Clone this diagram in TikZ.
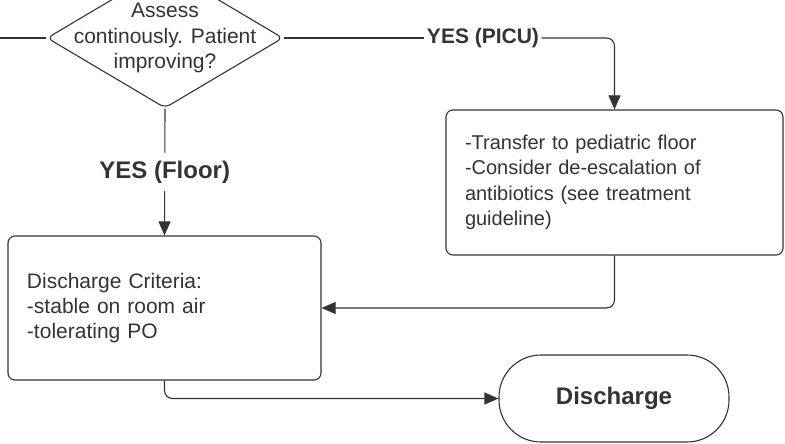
\documentclass[tikz,border=0pt]{standalone}
\usepackage{fontspec}
\setmainfont{Liberation Sans}
\usetikzlibrary{shapes.geometric,arrows.meta}
\definecolor{ink}{HTML}{333333}
\begin{document}
\begin{tikzpicture}[x=1pt, y=-1pt, color=ink, line width=1.1pt,
  font=\fontsize{20}{25.5}\selectfont,
  box/.style={draw, rounded corners=7, align=left, inner xsep=19pt, inner ysep=0pt},
  arr/.style={-{Triangle[length=14pt,width=12pt]}, rounded corners=8},
  tag/.style={font=\fontsize{21}{25}\selectfont\bfseries, fill=white, inner xsep=2pt, inner ysep=8pt}]
\useasboundingbox (0,0) rectangle (785,444);
\node[diamond, draw, rounded corners=6, minimum width=236pt, minimum height=140pt, inner sep=0pt] (check) at (165,38) {};
\node[align=center, font=\fontsize{21}{25.5}\selectfont] (checktxt) at (check) {Assess\\continously. Patient\\improving?};
\coordinate (start) at (0,38);
\draw (start) -- (check.west);
\node[tag] (picutag) at (483,38) {YES (PICU)};
\draw (check.east) -- (picutag.west);
\node[box, text width=299pt, minimum height=145pt] (picu) at (614.5,182.5)
  {-Transfer to pediatric floor\\-Consider de-escalation of\\antibiotics (see treatment\\guideline)};
\draw[arr] (picutag.east) -| (picu.north);
\node[box, text width=275pt, minimum height=144pt, font=\fontsize{21}{25}\selectfont] (crit) at (164.5,308)
  {Discharge Criteria:\\-stable on room air\\-tolerating PO};
\draw[arr] (check.south) -- node[tag, font=\fontsize{24}{28}\selectfont\bfseries] (floortag) {YES (Floor)} (crit.north);
\draw[arr] (picu.south) |- (crit.east);
\node[draw, rounded corners=42, minimum width=230pt, minimum height=87pt,
  font=\fontsize{24}{28}\selectfont\bfseries] (dis) at (614,398.5) {Discharge};
\draw[arr] (crit.south) |- (dis.west);
\end{tikzpicture}
\end{document}
